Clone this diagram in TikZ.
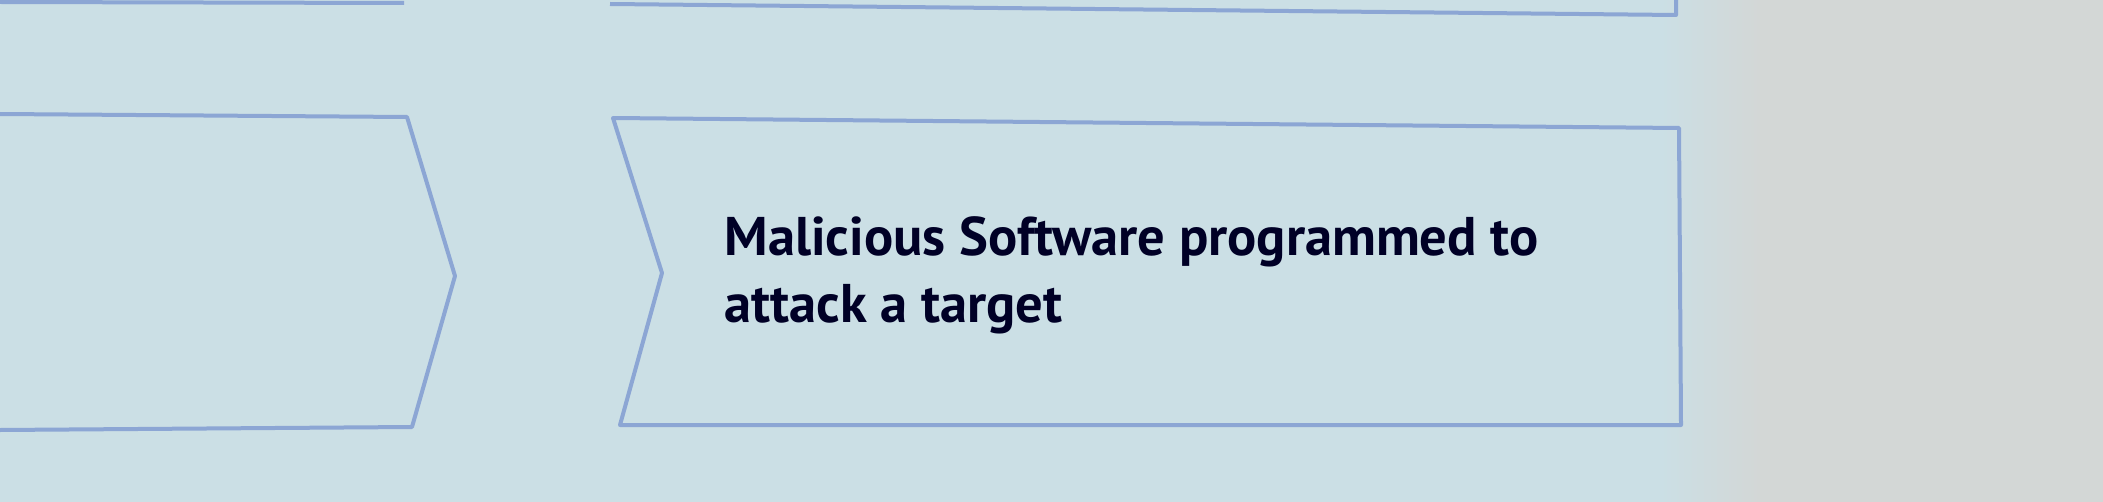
\documentclass[tikz,border=0pt]{standalone}
\usepackage{fontspec}
\setmainfont{PT Sans}
\definecolor{bgblue}{HTML}{CBDFE5}
\definecolor{bggrey}{HTML}{D3D7D6}
\definecolor{edgeblue}{HTML}{8CA6D4}
\begin{document}
\begin{tikzpicture}[x=0.1mm,y=-0.1mm]
\tikzset{edge/.style={draw=edgeblue, line width=0.4mm, line join=round}}
\useasboundingbox (0,0) rectangle (2103,502);
\fill[bgblue] (0,0) rectangle (1660,502);
\shade[left color=bgblue, right color=bggrey] (1660,0) rectangle (1760,502);
\fill[bggrey] (1760,0) rectangle (2103,502);
\draw[edge] (0,2) -- (404,3);
\draw[edge] (610,4) -- (1676,15) -- (1676,0);
\draw[edge] (0,114) -- (407,117) -- (455,276) -- (412,427) -- (0,430);
\draw[edge] (613,118) -- (1679,128) -- (1681,425) -- (620,425) -- (662,273) -- cycle;
\node[anchor=base west, inner sep=0, align=left, text=black!85!blue, font=\fontsize{15.5}{18.8}\selectfont\bfseries] (label) at (724,322) {Malicious Software programmed to\\attack a target};
\end{tikzpicture}
\end{document}
